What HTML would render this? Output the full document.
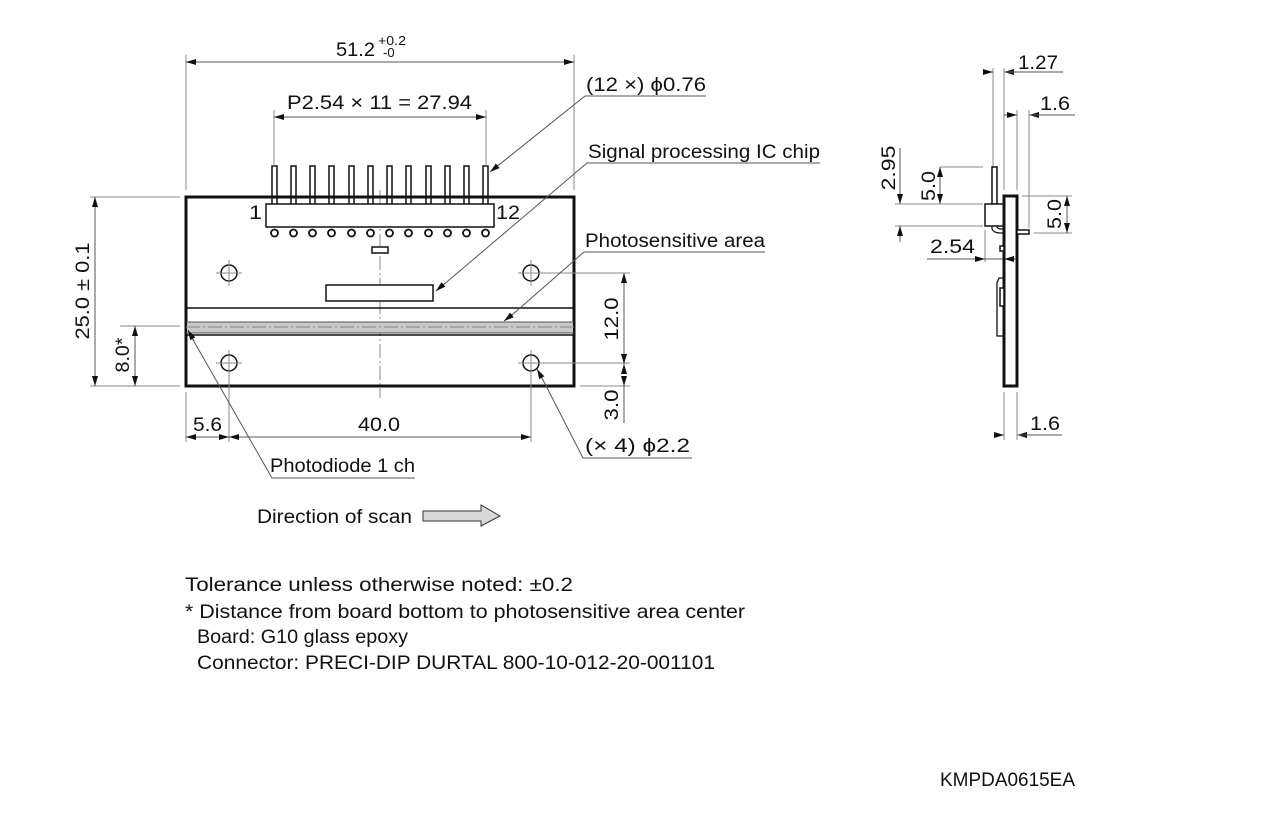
<!DOCTYPE html>
<html><head><meta charset="utf-8"><style>
html,body{margin:0;padding:0;background:#fff;}
svg{display:block;}
text{font-family:"Liberation Sans","DejaVu Sans",sans-serif;font-size:19px;fill:#111;}
.t{stroke:#888;stroke-width:1;fill:none;}
.b{stroke:#111;stroke-width:3;fill:none;}
.m{stroke:#111;stroke-width:1.5;fill:#fff;}
.c{stroke:#888;stroke-width:1;stroke-dasharray:14 3 2 3;fill:none;}
</style></head><body>
<svg width="1267" height="837" viewBox="0 0 1267 837" xmlns="http://www.w3.org/2000/svg">
<defs>
<marker id="a" viewBox="0 0 10 6" refX="10" refY="3" markerWidth="10" markerHeight="6" markerUnits="userSpaceOnUse" orient="auto"><path d="M0,0 L10,3 L0,6 z" fill="#111"/></marker>
</defs>

<line class="c" x1="380" y1="190" x2="380" y2="398"/>
<g class="m">
<rect x="272" y="166" width="5" height="40"/><rect x="291" y="166" width="5" height="40"/><rect x="310" y="166" width="5" height="40"/><rect x="329" y="166" width="5" height="40"/><rect x="349" y="166" width="5" height="40"/><rect x="368" y="166" width="5" height="40"/><rect x="387" y="166" width="5" height="40"/><rect x="406" y="166" width="5" height="40"/><rect x="426" y="166" width="5" height="40"/><rect x="445" y="166" width="5" height="40"/><rect x="464" y="166" width="5" height="40"/><rect x="483" y="166" width="5" height="40"/>
</g>
<rect class="b" x="186" y="197" width="388" height="189"/>
<rect class="m" x="266" y="204" width="228" height="23"/>
<g fill="#fff" stroke="#111" stroke-width="1.8">
<circle cx="274.5" cy="233" r="3.5"/><circle cx="293.5" cy="233" r="3.5"/><circle cx="312.5" cy="233" r="3.5"/><circle cx="331.5" cy="233" r="3.5"/><circle cx="351.5" cy="233" r="3.5"/><circle cx="370.5" cy="233" r="3.5"/><circle cx="389.5" cy="233" r="3.5"/><circle cx="408.5" cy="233" r="3.5"/><circle cx="428.5" cy="233" r="3.5"/><circle cx="447.5" cy="233" r="3.5"/><circle cx="466.5" cy="233" r="3.5"/><circle cx="485.5" cy="233" r="3.5"/>
</g>
<text x="249" y="219" textLength="13" lengthAdjust="spacingAndGlyphs">1</text><text x="496" y="219" textLength="24" lengthAdjust="spacingAndGlyphs">12</text>
<rect class="m" x="372" y="247" width="16" height="6"/>
<rect class="m" x="326" y="285" width="107" height="16"/>
<line x1="186" y1="308" x2="574" y2="308" stroke="#111" stroke-width="1.5"/>
<rect x="187" y="322" width="386" height="11" fill="#c8c8c8"/>
<line x1="186" y1="322" x2="574" y2="322" stroke="#555" stroke-width="1"/>
<line x1="186" y1="333" x2="574" y2="333" stroke="#555" stroke-width="1"/>
<line x1="186" y1="335" x2="574" y2="335" stroke="#111" stroke-width="1.5"/>
<line class="c" x1="186" y1="327" x2="574" y2="327" stroke="#fff"/>
<g fill="none" stroke="#111" stroke-width="1.5">
<circle cx="229" cy="273" r="8"/><circle cx="531" cy="273" r="8"/><circle cx="229" cy="363" r="8"/><circle cx="531" cy="363" r="8"/>
</g>
<g class="t">
<line x1="216" y1="273" x2="242" y2="273"/><line x1="229" y1="260" x2="229" y2="286"/>
<line x1="518" y1="273" x2="630" y2="273"/><line x1="531" y1="260" x2="531" y2="286"/>
<line x1="216" y1="363" x2="242" y2="363"/><line x1="229" y1="350" x2="229" y2="442"/>
<line x1="518" y1="363" x2="630" y2="363"/><line x1="531" y1="350" x2="531" y2="442"/>
</g>

<g class="t">
<line x1="186" y1="55" x2="186" y2="190"/><line x1="574" y1="55" x2="574" y2="190"/>
<line x1="274" y1="110" x2="274" y2="166"/><line x1="486" y1="110" x2="486" y2="166"/>
<line x1="90" y1="197" x2="180" y2="197"/><line x1="90" y1="386" x2="180" y2="386"/>
<line x1="120" y1="326" x2="180" y2="326"/>
<line x1="580" y1="386" x2="630" y2="386"/>
<line x1="186" y1="392" x2="186" y2="442"/>
</g>
<g stroke="#555" stroke-width="1" fill="none">
<line x1="195" y1="62" x2="565" y2="62" /><line x1="195" y1="62" x2="186" y2="62" marker-end="url(#a)"/><line x1="565" y1="62" x2="574" y2="62" marker-end="url(#a)"/>
<line x1="284" y1="117" x2="476" y2="117"/><line x1="284" y1="117" x2="274" y2="117" marker-end="url(#a)"/><line x1="476" y1="117" x2="486" y2="117" marker-end="url(#a)"/>
<line x1="95" y1="207" x2="95" y2="376"/><line x1="95" y1="207" x2="95" y2="197" marker-end="url(#a)"/><line x1="95" y1="376" x2="95" y2="386" marker-end="url(#a)"/>
<line x1="135" y1="336" x2="135" y2="376"/><line x1="135" y1="336" x2="135" y2="326" marker-end="url(#a)"/><line x1="135" y1="376" x2="135" y2="386" marker-end="url(#a)"/>
<line x1="624" y1="283" x2="624" y2="354"/><line x1="624" y1="283" x2="624" y2="273" marker-end="url(#a)"/><line x1="624" y1="354" x2="624" y2="364" marker-end="url(#a)"/>
<line x1="624" y1="374" x2="624" y2="364" marker-end="url(#a)"/><line x1="624" y1="376" x2="624" y2="386" marker-end="url(#a)"/><line x1="624" y1="386" x2="624" y2="423"/>
<line x1="186" y1="437" x2="531" y2="437"/><line x1="196" y1="437" x2="186" y2="437" marker-end="url(#a)"/><line x1="219" y1="437" x2="229" y2="437" marker-end="url(#a)"/><line x1="239" y1="437" x2="229" y2="437" marker-end="url(#a)"/><line x1="521" y1="437" x2="531" y2="437" marker-end="url(#a)"/>
</g>
<text x="336" y="56" textLength="39" lengthAdjust="spacingAndGlyphs">51.2</text>
<text x="378" y="45" style="font-size:13px" textLength="28" lengthAdjust="spacingAndGlyphs">+0.2</text>
<text x="383" y="57" style="font-size:13px">-0</text>
<text x="287" y="109" textLength="185" lengthAdjust="spacingAndGlyphs">P2.54 × 11 = 27.94</text>
<text transform="translate(89,291) rotate(-90)" text-anchor="middle" textLength="97" lengthAdjust="spacingAndGlyphs">25.0 ± 0.1</text>
<text transform="translate(129,355) rotate(-90)" text-anchor="middle" textLength="35" lengthAdjust="spacingAndGlyphs">8.0*</text>
<text transform="translate(618,319) rotate(-90)" text-anchor="middle" textLength="43" lengthAdjust="spacingAndGlyphs">12.0</text>
<text transform="translate(618,405) rotate(-90)" text-anchor="middle" textLength="31" lengthAdjust="spacingAndGlyphs">3.0</text>
<text x="193" y="431" textLength="29" lengthAdjust="spacingAndGlyphs">5.6</text>
<text x="358" y="431" textLength="42" lengthAdjust="spacingAndGlyphs">40.0</text>

<g stroke="#555" stroke-width="1" fill="none">
<polyline points="706,96 585,96 495,168"/><line x1="500" y1="164" x2="490" y2="172" marker-end="url(#a)"/>
<polyline points="820,163 587,163 442,286"/><line x1="444" y1="284" x2="436" y2="291" marker-end="url(#a)"/>
<polyline points="765,252 584,252 512,315"/><line x1="513" y1="314" x2="504" y2="321" marker-end="url(#a)"/>
<polyline points="415,478 272,478 192,338"/><line x1="194" y1="341" x2="188" y2="330" marker-end="url(#a)"/>
<polyline points="692,458 583,458 542,378"/><line x1="543" y1="380" x2="537" y2="369" marker-end="url(#a)"/>
</g>
<text x="586" y="91" textLength="120" lengthAdjust="spacingAndGlyphs">(12 ×) ϕ0.76</text>
<text x="588" y="158" textLength="232" lengthAdjust="spacingAndGlyphs">Signal processing IC chip</text>
<text x="585" y="247" textLength="180" lengthAdjust="spacingAndGlyphs">Photosensitive area</text>
<text x="270" y="472" textLength="145" lengthAdjust="spacingAndGlyphs">Photodiode 1 ch</text>
<text x="585" y="452" textLength="105" lengthAdjust="spacingAndGlyphs">(× 4) ϕ2.2</text>

<text x="257" y="523" textLength="155" lengthAdjust="spacingAndGlyphs">Direction of scan</text>
<polygon points="423,511 481,511 481,505 500,516 481,526 481,521 423,521" fill="#d8d8d8" stroke="#333" stroke-width="1"/>

<g class="t">
<line x1="993" y1="68" x2="993" y2="167"/><line x1="1004" y1="68" x2="1004" y2="190"/>
<line x1="1017" y1="110" x2="1017" y2="190"/><line x1="1029" y1="110" x2="1029" y2="228"/>
<line x1="940" y1="167" x2="983" y2="167"/>
<line x1="895" y1="204" x2="983" y2="204"/>
<line x1="895" y1="226" x2="983" y2="226"/>
<line x1="985" y1="230" x2="985" y2="262"/>
<line x1="1022" y1="196" x2="1072" y2="196"/>
<line x1="1034" y1="233" x2="1072" y2="233"/>
<line x1="1004" y1="392" x2="1004" y2="440"/><line x1="1017" y1="392" x2="1017" y2="440"/>
</g>
<g stroke="#555" stroke-width="1" fill="none">
<line x1="983" y1="72" x2="993" y2="72" marker-end="url(#a)"/><line x1="1014" y1="72" x2="1004" y2="72" marker-end="url(#a)"/><line x1="1004" y1="72" x2="1063" y2="72"/>
<line x1="1004" y1="115" x2="1017" y2="115"/><line x1="1007" y1="115" x2="1017" y2="115" marker-end="url(#a)"/><line x1="1039" y1="115" x2="1029" y2="115" marker-end="url(#a)"/><line x1="1029" y1="115" x2="1075" y2="115"/>
<line x1="900" y1="148" x2="900" y2="194"/><line x1="900" y1="194" x2="900" y2="204" marker-end="url(#a)"/><line x1="900" y1="236" x2="900" y2="226" marker-end="url(#a)"/><line x1="900" y1="236" x2="900" y2="242"/>
<line x1="940" y1="177" x2="940" y2="194"/><line x1="940" y1="177" x2="940" y2="167" marker-end="url(#a)"/><line x1="940" y1="194" x2="940" y2="204" marker-end="url(#a)"/>
<line x1="927" y1="259" x2="1017" y2="259"/><line x1="975" y1="259" x2="985" y2="259" marker-end="url(#a)"/><line x1="1014" y1="259" x2="1004" y2="259" marker-end="url(#a)"/>
<line x1="1067" y1="206" x2="1067" y2="223"/><line x1="1067" y1="206" x2="1067" y2="196" marker-end="url(#a)"/><line x1="1067" y1="223" x2="1067" y2="233" marker-end="url(#a)"/>
<line x1="994" y1="435" x2="1004" y2="435" marker-end="url(#a)"/><line x1="1027" y1="435" x2="1017" y2="435" marker-end="url(#a)"/><line x1="1017" y1="435" x2="1062" y2="435"/>
</g>
<rect class="m" x="992" y="167" width="5" height="37"/>
<path d="M992,226 L992,229 Q994,233 1000,233 L1004,233" fill="none" stroke="#111" stroke-width="1.3"/>
<path d="M997,226 L997,227 Q998,229 1001,229 L1004,229" fill="none" stroke="#111" stroke-width="1.3"/>
<rect class="m" x="985" y="204" width="19" height="22"/>
<rect class="b" x="1004" y="196" width="13" height="190"/>
<rect class="m" x="1017" y="230" width="12" height="4"/>
<rect class="m" x="1000" y="246" width="4" height="5"/>
<path d="M1004,278 L999,278 L997,283 L997,336 L1001,336 L1004,336" fill="none" stroke="#111" stroke-width="1.3"/>
<rect class="m" x="1000" y="288" width="4" height="18"/>
<text x="1018" y="69" textLength="40" lengthAdjust="spacingAndGlyphs">1.27</text>
<text x="1040" y="110" textLength="30" lengthAdjust="spacingAndGlyphs">1.6</text>
<text transform="translate(895,168) rotate(-90)" text-anchor="middle" textLength="45" lengthAdjust="spacingAndGlyphs">2.95</text>
<text transform="translate(935,186) rotate(-90)" text-anchor="middle" textLength="30" lengthAdjust="spacingAndGlyphs">5.0</text>
<text transform="translate(1061,214) rotate(-90)" text-anchor="middle" textLength="30" lengthAdjust="spacingAndGlyphs">5.0</text>
<text x="930" y="253" textLength="45" lengthAdjust="spacingAndGlyphs">2.54</text>
<text x="1030" y="430" textLength="30" lengthAdjust="spacingAndGlyphs">1.6</text>

<text x="185" y="591" textLength="388" lengthAdjust="spacingAndGlyphs">Tolerance unless otherwise noted: ±0.2</text>
<text x="185" y="618" textLength="560" lengthAdjust="spacingAndGlyphs">* Distance from board bottom to photosensitive area center</text>
<text x="197" y="643" textLength="211" lengthAdjust="spacingAndGlyphs">Board: G10 glass epoxy</text>
<text x="197" y="669" textLength="518" lengthAdjust="spacingAndGlyphs">Connector: PRECI-DIP DURTAL 800-10-012-20-001101</text>
<text x="940" y="786" textLength="135" lengthAdjust="spacingAndGlyphs">KMPDA0615EA</text>
</svg>
</body></html>
